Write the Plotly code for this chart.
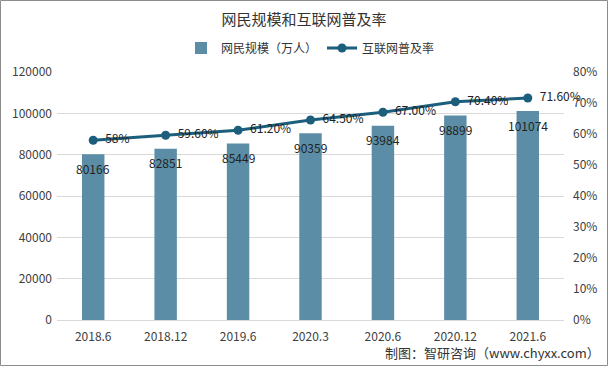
import plotly.graph_objects as go

categories = ["2018.6", "2018.12", "2019.6", "2020.3", "2020.6", "2020.12", "2021.6"]
users = [80166, 82851, 85449, 90359, 93984, 98899, 101074]
rate = [58.0, 59.6, 61.2, 64.5, 67.0, 70.4, 71.6]
rate_labels = ["58%", "59.60%", "61.20%", "64.50%", "67.00%", "70.40%", "71.60%"]

W, H = 608, 366
L, R, T, B = 57, 44, 72, 46
font = "Noto Sans CJK SC, Microsoft YaHei, sans-serif"
xpos = list(range(len(categories)))

fig = go.Figure()
fig.add_trace(go.Bar(
    x=xpos, y=users, name="网民规模（万人）",
    marker=dict(color="#5b8ea6", line=dict(width=0)),
    width=0.31,
))
fig.add_trace(go.Scatter(
    x=xpos, y=rate, name="互联网普及率", yaxis="y2",
    mode="lines+markers+text",
    line=dict(color="#1b5f7c", width=3),
    marker=dict(size=9, color="#1b5f7c"),
    text=["  " + t for t in rate_labels], textposition="middle right",
    textfont=dict(size=12, color="#222222", family=font),
    cliponaxis=False,
))

for i, v in zip(xpos, users):
    fig.add_annotation(x=i, y=v, xref="x", yref="y", text=str(v), showarrow=False, yshift=-14,
                       font=dict(size=12, color="#222222", family=font))

pw = W - L - R
ph = H - T - B
fig.add_shape(type="rect", xref="paper", yref="paper",
              x0=-(L - 0.5) / pw, x1=1 + (R - 0.5) / pw,
              y0=-(B - 0.5) / ph, y1=1 + (T - 0.5) / ph,
              line=dict(color="#8c8c8c", width=1))

fig.add_annotation(xref="paper", yref="paper", x=1 + (R - 6) / pw, y=-(352 - 320) / ph,
                   xanchor="right", yanchor="middle", showarrow=False,
                   text="制图：智研咨询（www.chyxx.com）",
                   font=dict(size=13, color="#333333", family=font))

fig.update_layout(
    width=W, height=H,
    margin=dict(l=L, r=R, t=T, b=B),
    paper_bgcolor="white", plot_bgcolor="white",
    title=dict(text="网民规模和互联网普及率", x=0.5, xanchor="center", y=1 - 20 / H, yanchor="middle",
               font=dict(size=15, color="#333333", family=font)),
    legend=dict(orientation="h", x=0.5, xanchor="center",
                y=1 + 24 / ph, yanchor="middle",
                font=dict(size=12, color="#333333", family=font),
                traceorder="normal"),
    font=dict(family=font, color="#404040", size=12),
    xaxis=dict(range=[-0.5, 6.5], tickvals=xpos, ticktext=categories,
               showgrid=False, showline=True, linecolor="#d9d9d9", zeroline=False,
               ticks="", ticklabelstandoff=6, tickfont=dict(size=12, color="#404040")),
    yaxis=dict(range=[0, 120000], dtick=20000, tickformat="d", showgrid=True, gridcolor="#d9d9d9",
               zeroline=False, ticklabelstandoff=4, tickfont=dict(size=12, color="#404040")),
    yaxis2=dict(range=[0, 80], dtick=10, overlaying="y", side="right", showgrid=False,
                zeroline=False, ticksuffix="%", ticklabelstandoff=8,
                tickfont=dict(size=12, color="#404040")),
)

fig.write_html("out.html", config={"displayModeBar": False},
               post_script="document.body.style.margin='0px';document.body.style.overflow='hidden';")
